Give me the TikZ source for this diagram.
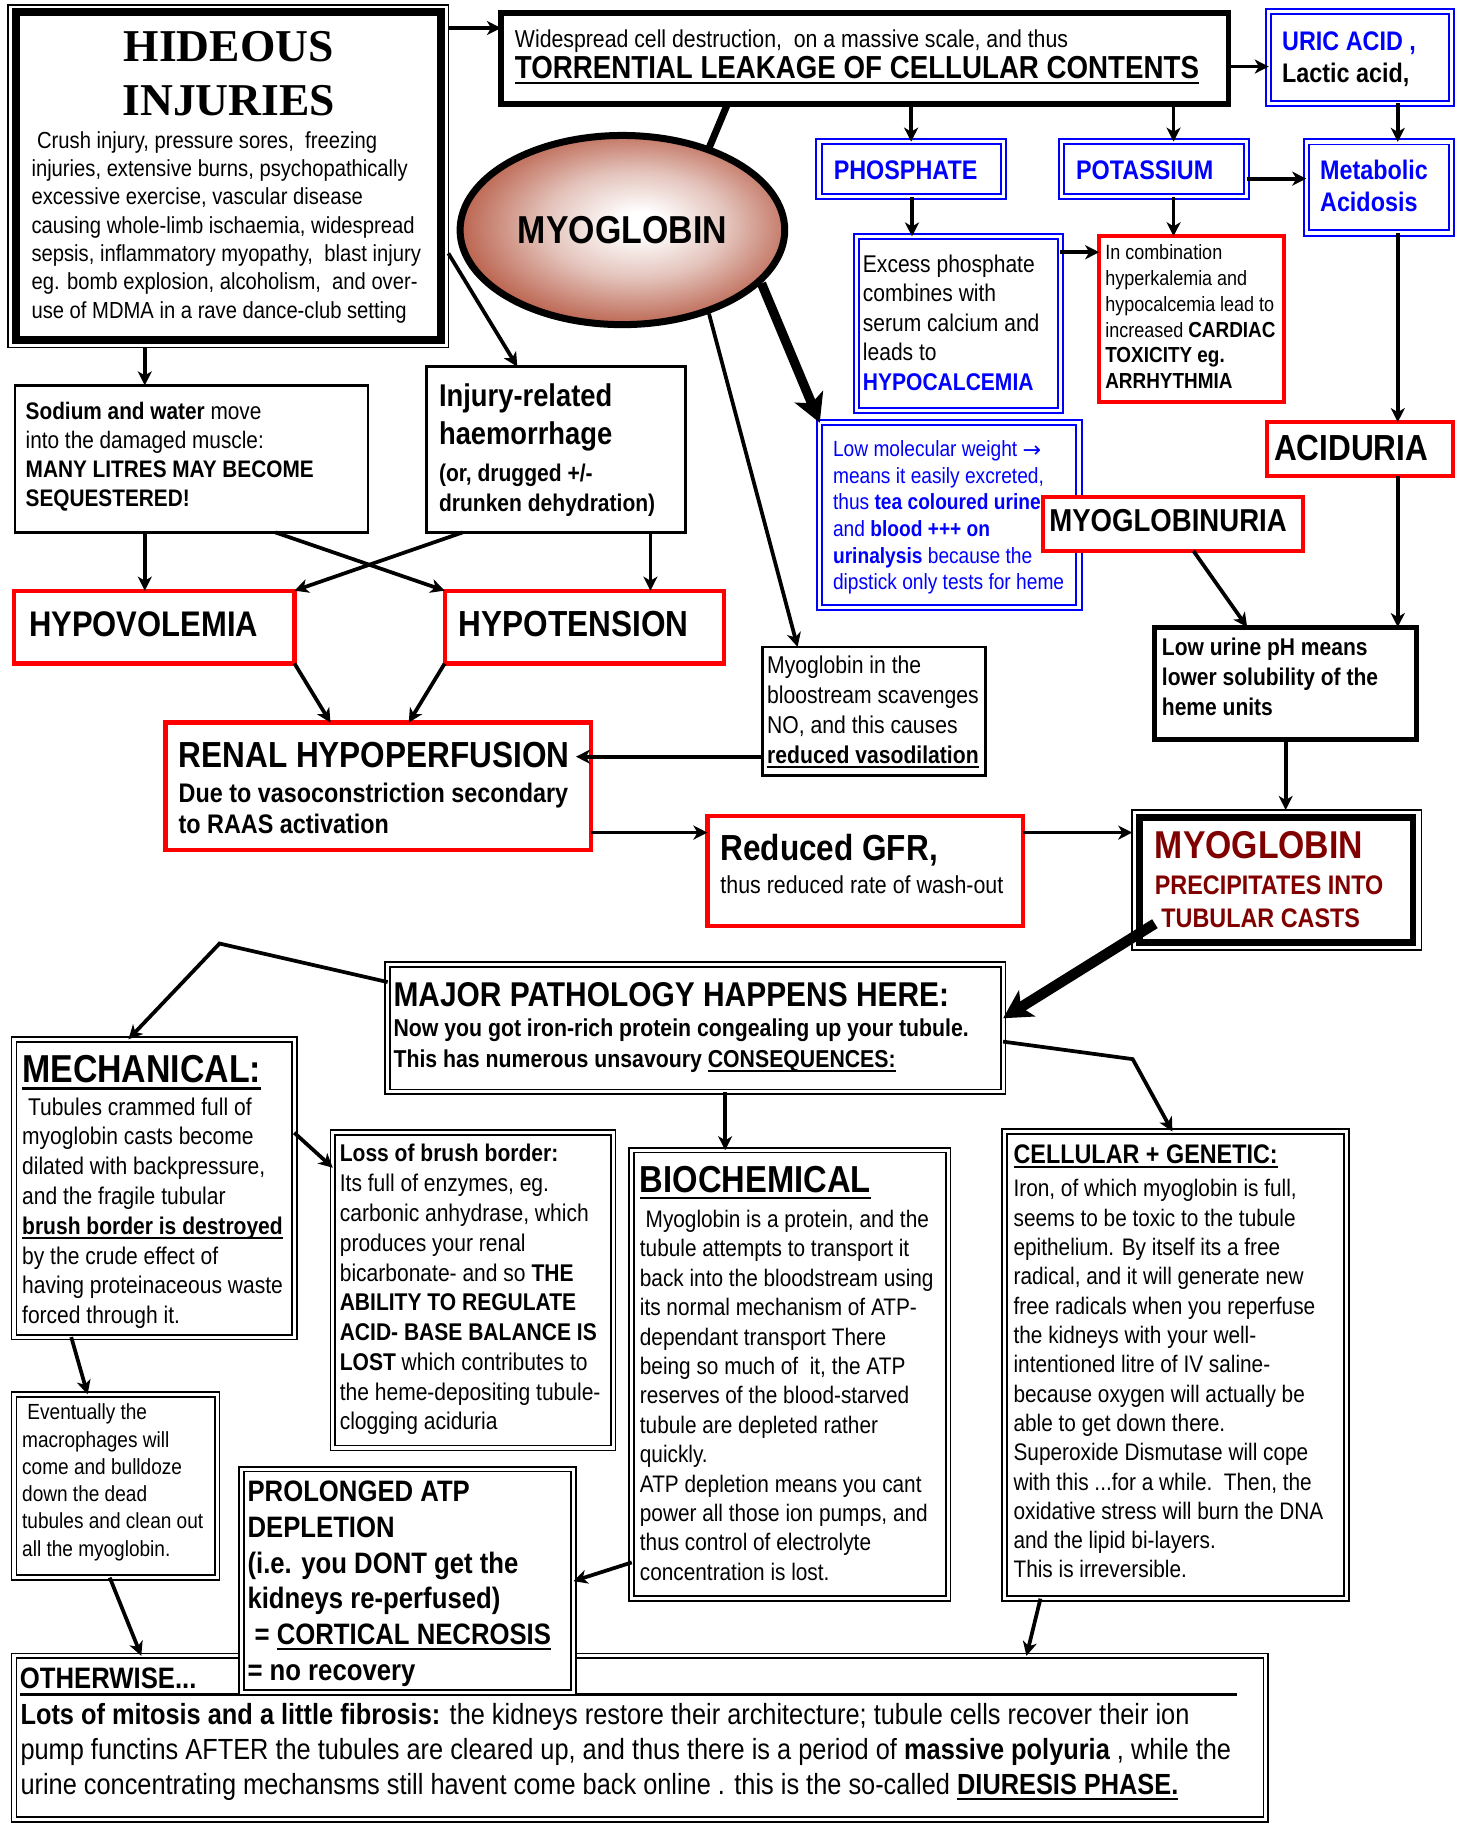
\documentclass[tikz,border=0pt]{standalone}
\usepackage{fontspec}
\setmainfont[FakeStretch=0.87,Scale=1.15]{Liberation Sans}
\newfontfamily\tnr{Liberation Serif}
\newfontfamily\djv{DejaVu Sans}
\usetikzlibrary{arrows.meta,shapes.geometric}
\definecolor{dred}{RGB}{128,0,0}
\definecolor{mgA}{RGB}{228,196,188}
\definecolor{mgB}{RGB}{182,88,66}
\definecolor{mgC}{RGB}{150,48,30}
\definecolor{mgD}{RGB}{132,36,20}
\pgfdeclareradialshading{myogl}{\pgfpoint{3bp}{2bp}}{color(0bp)=(white); color(3bp)=(white); color(14bp)=(mgA); color(28bp)=(mgB); color(40bp)=(mgC); color(50bp)=(mgD)}
\newcommand\TX[3]{\vtop{\fontsize{#1}{#2}\selectfont\lineskiplimit=-1000pt\lineskip=0pt\let\\\cr\halign{##\hfil\cr#3\crcr}}}
\newcommand\TXc[3]{\vtop{\fontsize{#1}{#2}\selectfont\lineskiplimit=-1000pt\lineskip=0pt\let\\\cr\halign{\hfil##\hfil\cr#3\crcr}}}
\newcommand\myul[1]{\setbox0\hbox{#1}\leavevmode\rlap{\rule[-0.19em]{\wd0}{0.075em}}\box0}
\newcommand\bbb{\fontsize{16.2}{22.2}\selectfont\bfseries}
\newcommand\mkbox[6]{\node[#2, minimum width={(#5-#3)*1pt}, minimum height={(#6-#4)*1pt}] (#1) at ({(#3+#5)/2},{(#4+#6)/2}) {};}
\begin{document}
\begin{tikzpicture}[x=1pt,y=-1pt,
  bx/.style={rectangle, inner sep=0pt, outer sep=0pt},
  blk/.style={bx, draw=black, line width=2.2pt, fill=white},
  thk/.style={bx, draw=black, line width=5pt, fill=white},
  redb/.style={bx, draw=red, line width=3.6pt, fill=white},
  blued/.style={bx, draw=blue, double=white, line width=1.7pt, double distance=2.8pt, fill=white},
  blkd/.style={bx, draw=black, double=white, line width=1.5pt, double distance=2.6pt, fill=white},
  arr/.style={draw=black, line width=3.2pt, -{Stealth[length=12pt,width=12pt,inset=3.5pt]}},
  bigarr/.style={draw=black, line width=8pt, -{Stealth[length=24pt,width=26pt,inset=6pt]}},
  tx/.style={anchor=base west, inner sep=0pt, outer sep=0pt},
  txc/.style={anchor=base, inner sep=0pt, outer sep=0pt}]
\path[fill=white,use as bounding box] (0,0) rectangle (1253,1568);

% ---------- boxes ----------
\mkbox{hidO}{bx,draw,line width=1.3pt,fill=white}{7}{4.5}{384}{297.5}
\mkbox{hid}{bx,draw,line width=6.5pt}{13.5}{10.5}{377.5}{291}
\mkbox{tor}{thk}{429}{11}{1052}{89}
\mkbox{uric}{blued}{1086.5}{10}{1243}{88.4}
\mkbox{phos}{blued}{701.4}{121.3}{859.1}{168.3}
\mkbox{pot}{blued}{909.2}{121.3}{1067.6}{168.3}
\mkbox{meta}{blued}{1118.6}{121.5}{1243}{199.5}
\mkbox{exc}{blued}{733.5}{202.5}{908}{351.6}
\mkbox{comb}{redb}{941.3}{202.3}{1099.6}{344.2}
\mkbox{lowm}{blued}{702}{362}{924}{520}
\mkbox{acid}{redb}{1085.3}{361.5}{1244.2}{407.6}
\mkbox{urph}{bx,draw,line width=4.3pt,fill=white}{989}{537}{1213}{633}
\mkbox{sod}{blk}{13}{330}{315}{456}
\mkbox{inj}{blk}{365}{314}{587}{456}
\mkbox{hypo}{redb}{11.8}{505.8}{252.2}{568.2}
\mkbox{hypot}{redb}{380.8}{505.8}{620.2}{568.2}
\mkbox{renal}{redb}{141.8}{618.8}{506.2}{728.2}
\mkbox{blood}{blk,line width=2pt}{653}{554}{844}{664}
\mkbox{gfr}{redb}{605.8}{698.8}{876.2}{793.2}
\mkbox{precO}{bx,draw,line width=1.3pt,fill=white}{969.6}{693.6}{1217.4}{813.4}
\mkbox{prec}{bx,draw,line width=5.7pt}{976}{700}{1210}{807}
\mkbox{major}{blkd}{332}{826}{859}{935}
\mkbox{mech}{blkd}{12}{890}{252}{1145}
\mkbox{loss}{blkd}{285}{970}{525}{1240}
\mkbox{bio}{blkd}{541}{985}{812}{1369}
\mkbox{cell}{blkd}{860}{969}{1153}{1369}
\mkbox{event}{blkd}{12}{1194}{186}{1351}
\mkbox{oth}{blkd}{12}{1418}{1084}{1558}
\draw[line width=2pt] (17,1451) -- (1059,1451);
\mkbox{prol}{blkd}{207}{1258}{491}{1449}

% ---------- ellipse ----------
\draw[line width=6pt] (tor.south -| 623,0) -- (605,132);
\node[ellipse, draw=black, line width=6pt, shading=myogl, minimum width=278pt, minimum height=162pt, inner sep=0pt, font=\fontsize{29}{34}\selectfont\bfseries] (myo) at (533,197) {MYOGLOBIN};

% ---------- texts ----------
\node[txc,font=\tnr\bfseries] (tHid1) at (196,52.5) {\TXc{39}{46}{HIDEOUS\\INJURIES}};
\node[tx] (tHid2) at (27,127) {\TX{17.3}{24.25}{\ Crush injury, pressure sores,\ \ freezing\\injuries, extensive burns, psychopathically\\excessive exercise, vascular disease\\causing whole-limb ischaemia, widespread\\sepsis, inflammatory myopathy,\ \ blast injury\\eg. bomb explosion, alcoholism,\ \ and over-\\use of MDMA in a rave dance-club setting}};
\node[tx] (tTor1) at (441,41) {\TX{18.2}{24}{Widespread cell destruction,\ \ on a massive scale, and thus}};
\node[tx,font=\bfseries] (tTor2) at (441,67) {\TX{23.7}{28}{\myul{TORRENTIAL LEAKAGE OF CELLULAR CONTENTS}}};
\node[tx,font=\bfseries] (tUric) at (1098,43) {\TX{20}{27.5}{{\color{blue}URIC ACID ,}\\Lactic acid,}};
\node[tx,font=\bfseries,text=blue] (tPhos) at (714,154) {\TX{20}{24}{PHOSPHATE}};
\node[tx,font=\bfseries,text=blue] (tPot) at (921.5,154) {\TX{20}{24}{POTASSIUM}};
\node[tx,font=\bfseries,text=blue] (tMeta) at (1130.5,154) {\TX{20}{27.5}{Metabolic\\Acidosis}};
\node[tx] (tExc) at (739,233) {\TX{18}{25.3}{Excess phosphate\\combines with\\serum calcium and\\leads to\\{\bfseries\color{blue}HYPOCALCEMIA}}};
\node[tx] (tComb) at (946.5,222) {\TX{15.4}{22.2}{In combination\\hyperkalemia and\\hypocalcemia lead to\\increased {\bbb CARDIAC}\\{\bbb TOXICITY eg.}\\{\bbb ARRHYTHMIA}}};
\node[tx,text=blue] (tLow) at (713.4,391) {\TX{16.4}{22.8}{Low molecular weight {\djv\fontsize{19}{20}\selectfont\raisebox{-1pt}{→}}\\means it easily excreted,\\thus {\bfseries tea coloured urine}\\and {\bfseries blood +++ on}\\{\bfseries urinalysis} because the\\dipstick only tests for heme}};
\mkbox{mgu}{redb}{893.4}{425.8}{1115.9}{471.8}
\node[tx,font=\bfseries] (tMgu) at (898.6,455.5) {\TX{23.6}{28}{MYOGLOBINURIA}};
\node[tx,font=\bfseries] (tAcid) at (1091,394) {\TX{27}{30}{ACIDURIA}};
\node[tx,font=\bfseries] (tUrph) at (995,561) {\TX{18}{25.7}{Low urine pH means\\lower solubility of the\\heme units}};
\node[tx] (tSod) at (22,359) {\TX{17.8}{25}{{\bfseries Sodium and water} move\\into the damaged muscle:\\{\bfseries MANY LITRES MAY BECOME}\\{\bfseries SEQUESTERED!}}};
\node[tx,font=\bfseries] (tInj1) at (376,348) {\TX{23.4}{33}{Injury-related\\haemorrhage}};
\node[tx,font=\bfseries] (tInj2) at (376,412.5) {\TX{18}{25.5}{(or, drugged +/-\\drunken dehydration)}};
\node[tx,font=\bfseries] (tHypo) at (25,545) {\TX{26.5}{30}{HYPOVOLEMIA}};
\node[tx,font=\bfseries] (tHypot) at (393,545) {\TX{27}{30}{HYPOTENSION}};
\node[tx,font=\bfseries] (tRen1) at (153,657) {\TX{27}{30}{RENAL HYPOPERFUSION}};
\node[tx,font=\bfseries] (tRen2) at (153,687) {\TX{20}{27}{Due to vasoconstriction secondary\\to RAAS activation}};
\node[tx] (tBlood) at (657,576.6) {\TX{18.1}{25.7}{Myoglobin in the\\bloostream scavenges\\NO, and this causes\\{\bfseries\myul{reduced vasodilation}}}};
\node[tx,font=\bfseries] (tGfr1) at (617,737) {\TX{27}{30}{Reduced GFR,}};
\node[tx] (tGfr2) at (617,765) {\TX{18.3}{24}{thus reduced rate of wash-out}};
\node[tx,font=\bfseries,text=dred] (tPre1) at (989,735) {\TX{28.9}{32}{MYOGLOBIN}};
\node[tx,font=\bfseries,text=dred] (tPre2) at (989,766) {\TX{20}{28}{PRECIPITATES INTO\\\ TUBULAR CASTS}};
\node[tx,font=\bfseries] (tMaj1) at (337,862) {\TX{25.6}{30}{MAJOR PATHOLOGY HAPPENS HERE:}};
\node[tx,font=\bfseries] (tMaj2) at (337,888) {\TX{18.2}{26}{Now you got iron-rich protein congealing up your tubule.\\This has numerous unsavoury \myul{CONSEQUENCES:}}};
\node[tx,font=\bfseries] (tMech1) at (19,927) {\TX{29}{32}{\myul{MECHANICAL:}}};
\node[tx] (tMech2) at (19,955) {\TX{18}{25.5}{\ Tubules crammed full of\\myoglobin casts become\\dilated with backpressure,\\and the fragile tubular\\{\bfseries\myul{brush border is destroyed}}\\by the crude effect of\\having proteinaceous waste\\forced through it.}};
\node[tx] (tLoss) at (291,995) {\TX{18}{25.5}{{\bfseries Loss of brush border:}\\Its full of enzymes, eg.\\carbonic anhydrase, which\\produces your renal\\bicarbonate- and so {\bfseries THE}\\{\bfseries ABILITY TO REGULATE}\\{\bfseries ACID- BASE BALANCE IS}\\{\bfseries LOST} which contributes to\\the heme-depositing tubule-\\clogging aciduria}};
\node[tx] (tEvent) at (19,1216) {\TX{16.3}{23.3}{\ Eventually the\\macrophages will\\come and bulldoze\\down the dead\\tubules and clean out\\all the myoglobin.}};
\node[tx,font=\bfseries] (tBio1) at (548,1021) {\TX{28}{32}{\myul{BIOCHEMICAL}}};
\node[tx] (tBio2) at (548,1051) {\TX{17.8}{25.2}{\ Myoglobin is a protein, and the\\tubule attempts to transport it\\back into the bloodstream using\\its normal mechanism of ATP-\\dependant transport There\\being so much of\ \ it, the ATP\\reserves of the blood-starved\\tubule are depleted rather\\quickly.\\ATP depletion means you cant\\power all those ion pumps, and\\thus control of electrolyte\\concentration is lost.}};
\node[tx,font=\bfseries] (tCell1) at (868,996) {\TX{20}{24}{\myul{CELLULAR + GENETIC:}}};
\node[tx] (tCell2) at (868,1025) {\TX{17.8}{25.1}{Iron, of which myoglobin is full,\\seems to be toxic to the tubule\\epithelium. By itself its a free\\radical, and it will generate new\\free radicals when you reperfuse\\the kidneys with your well-\\intentioned litre of IV saline-\\because oxygen will actually be\\able to get down there.\\Superoxide Dismutase will cope\\with this ...for a while.\ \ Then, the\\oxidative stress will burn the DNA\\and the lipid bi-layers.\\This is irreversible.}};
\node[tx,font=\bfseries] (tProl) at (212,1286) {\TX{22}{30.6}{PROLONGED ATP\\DEPLETION\\(i.e. you DONT get the\\kidneys re-perfused)\\\ = \myul{CORTICAL NECROSIS}\\= no recovery}};
\node[tx,font=\bfseries] (tOth1) at (17,1446) {\TX{22}{26}{OTHERWISE...}};
\node[tx] (tOth2) at (17.6,1477) {\TX{21.7}{30}{{\bfseries Lots of mitosis and a little fibrosis:} the kidneys restore their architecture; tubule cells recover their ion\\pump functins AFTER the tubules are cleared up, and thus there is a period of {\bfseries massive polyuria} , while the\\urine concentrating mechansms still havent come back online . this is the so-called {\bfseries\myul{DIURESIS PHASE.}}}};

% ---------- connectors ----------
\draw[arr] (hidO.east |- 0,24) -- (tor.west |- 0,24);
\draw[arr] (tor.east |- 0,57) -- (uric.west |- 0,57);
\draw[arr] (tor.south -| phos.north) -- (phos.north);
\draw[arr] (tor.south -| 1005,0) -- (pot.north -| 1005,0);
\draw[arr] (uric.south -| 1197,0) -- (meta.north -| 1197,0);
\draw[arr] (pot.east |- 0,153) -- (meta.west |- 0,153);
\draw[arr] (phos.south -| 781,0) -- (exc.north -| 781,0);
\draw[arr] (pot.south -| 1005,0) -- (comb.north -| 1005,0);
\draw[arr] (exc.east |- 0,216) -- (comb.west |- 0,216);
\draw[arr] (meta.south -| 1197,0) -- (acid.north -| 1197,0);
\draw[arr] (acid.south -| 1197,0) -- (urph.north -| 1197,0);
\draw[bigarr] (myo.-21) -- (lowm.north west);
\draw[arr] (myo.-44) -- (blood.north -| 683,0);
\draw[arr] (hidO.east |- 0,217) -- (inj.north -| 443,0);
\draw[arr] (hidO.south -| 124,0) -- (sod.north -| 124,0);
\draw[arr] (sod.south -| 124,0) -- (hypo.north -| 124,0);
\draw[arr] (sod.south -| 236,0) -- (hypot.north west);
\draw[arr] (inj.south -| 396,0) -- (hypo.north east);
\draw[arr] (inj.south -| 557,0) -- (hypot.north -| 557,0);
\draw[arr] (hypo.south east) -- (renal.north -| 283,0);
\draw[arr] (hypot.south west) -- (renal.north -| 350,0);
\draw[arr, shorten >=-13pt] (blood.west |- 0,648) -- (renal.east |- 0,648);
\draw[arr] (renal.east |- 0,713) -- (gfr.west |- 0,713);
\draw[arr] (gfr.east |- 0,713) -- (precO.west |- 0,713);
\draw[arr] (urph.south -| 1101,0) -- (precO.north -| 1101,0);
\draw[arr] (mgu.south -| 1022,0) -- (urph.north -| 1068,0);
\draw[bigarr, line width=9pt] ([xshift=13pt,yshift=16pt]prec.south west) -- (major.east |- 0,872);
\draw[arr] (major.west |- 0,841) -- (188,808) -- (mech.north -| 110,0);
\draw[arr] (major.south -| 621,0) -- (bio.north -| 621,0);
\draw[arr] (major.east |- 0,892) -- (970,907) -- (cell.north -| 1004,0);
\draw[arr] (mech.east |- 0,970) -- (loss.west |- 0,1000);
\draw[arr] (mech.south -| 61,0) -- (event.north -| 75,0);
\draw[arr] (bio.west |- 0,1338) -- (prol.east |- 0,1354);
\draw[arr] (event.south -| 94,0) -- (oth.north -| 121,0);
\draw[arr] (cell.south -| 891,0) -- (oth.north -| 879,0);
\end{tikzpicture}
\end{document}
